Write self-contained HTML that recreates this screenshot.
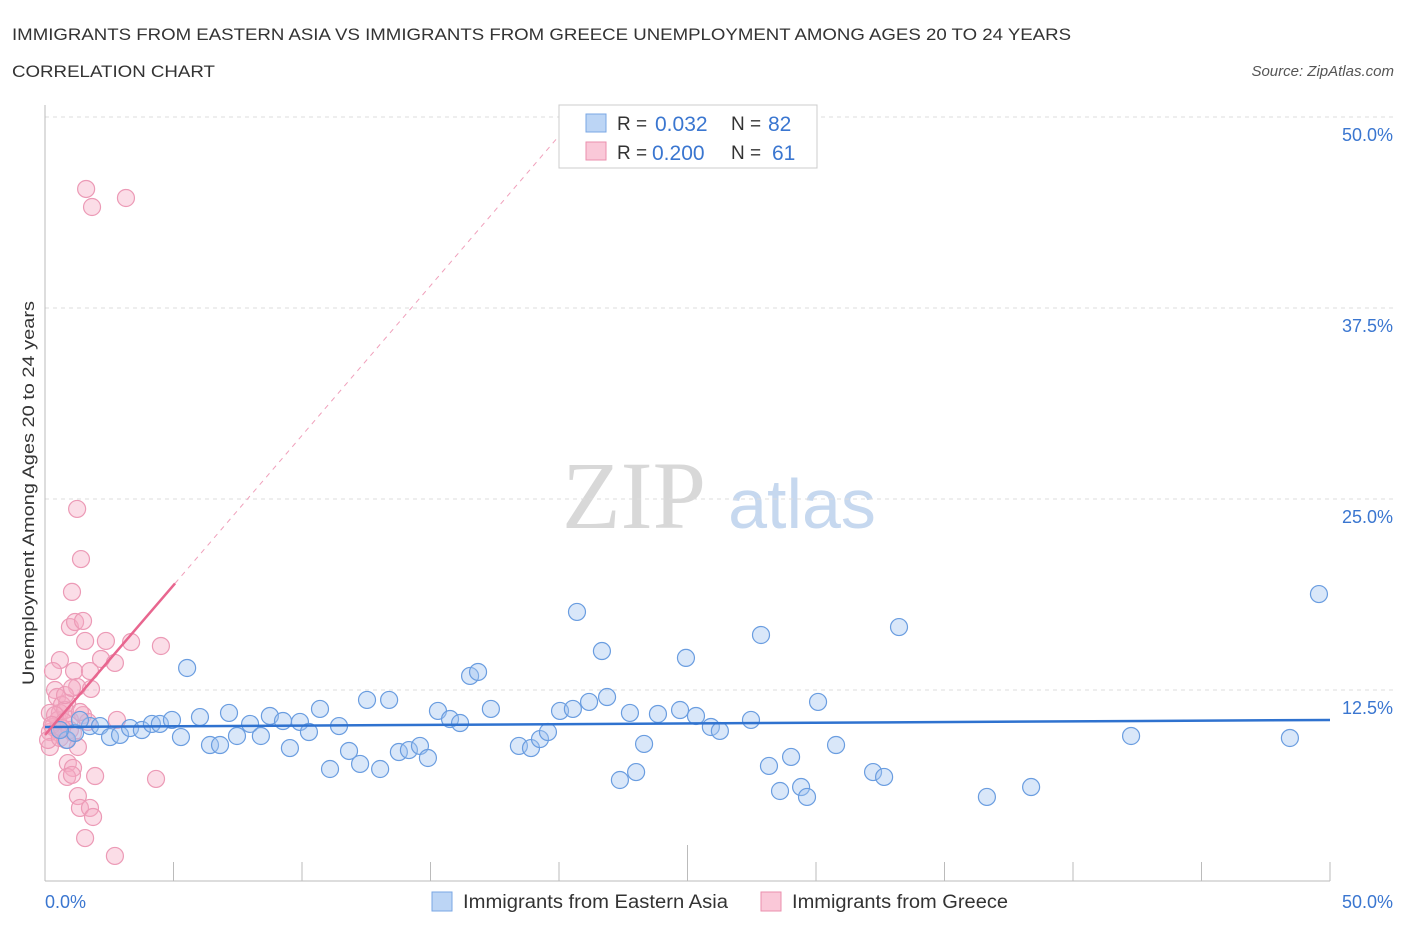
<!DOCTYPE html>
<html><head><meta charset="utf-8"><style>
body{margin:0;background:#fff;font-family:"Liberation Sans",sans-serif;}
svg{display:block}
</style></head><body>
<svg id="chart" width="1406" height="930">
<text x="12" y="40" font-size="17" fill="#333" textLength="1059" lengthAdjust="spacingAndGlyphs">IMMIGRANTS FROM EASTERN ASIA VS IMMIGRANTS FROM GREECE UNEMPLOYMENT AMONG AGES 20 TO 24 YEARS</text>
<text x="12" y="77" font-size="17" fill="#333" textLength="203" lengthAdjust="spacingAndGlyphs">CORRELATION CHART</text>
<text x="1394" y="76" font-size="15" fill="#555" font-style="italic" text-anchor="end">Source: ZipAtlas.com</text>
<text x="634" y="528" font-size="96" fill="#d8d8d8" font-family="Liberation Serif,serif" text-anchor="middle">ZIP</text>
<text x="802" y="528" font-size="70" fill="#c6d8ef" text-anchor="middle">atlas</text>
<g id="grid"></g>
<g id="axes"></g>
<g id="marks"></g>
<text transform="translate(34,493) rotate(-90)" font-size="17" fill="#333" text-anchor="middle" textLength="384" lengthAdjust="spacingAndGlyphs">Unemployment Among Ages 20 to 24 years</text>
<g>
<rect x="559" y="105" width="258" height="63" fill="#fff" stroke="#ccc"/>
<rect x="586" y="114" width="20" height="18" fill="#bcd5f5" stroke="#7aa7e4"/>
<rect x="586" y="142" width="20" height="18" fill="#fac8d8" stroke="#eb8fae"/>
<text x="617" y="130" font-size="19" fill="#333">R =</text>
<text x="655" y="131" font-size="21" fill="#3a76d0">0.032</text>
<text x="731" y="130" font-size="19" fill="#333">N =</text>
<text x="768" y="131" font-size="21" fill="#3a76d0">82</text>
<text x="617" y="159" font-size="19" fill="#333">R =</text>
<text x="652" y="160" font-size="21" fill="#3a76d0">0.200</text>
<text x="731" y="159" font-size="19" fill="#333">N =</text>
<text x="772" y="160" font-size="21" fill="#3a76d0">61</text>
</g>
<g>
<rect x="432" y="892" width="20" height="19" fill="#bcd5f5" stroke="#7aa7e4"/>
<text x="463" y="908" font-size="19" fill="#333" textLength="265" lengthAdjust="spacingAndGlyphs">Immigrants from Eastern Asia</text>
<rect x="761" y="892" width="20" height="19" fill="#fac8d8" stroke="#eb8fae"/>
<text x="792" y="908" font-size="19" fill="#333" textLength="216" lengthAdjust="spacingAndGlyphs">Immigrants from Greece</text>
</g>
</svg>
<script>
const yTicks=[12.5,25,37.5,50];
const yTickLabels=["12.5%","25.0%","37.5%","50.0%"];
const xTickValues=[0,5,10,15,20,25,30,35,40,45,50];
const blueX=[0.86,1.17,1.75,2.14,2.53,2.92,3.31,3.77,4.16,4.47,4.94,5.29,5.53,6.03,6.42,6.81,7.16,7.47,7.98,8.40,8.75,9.26,9.53,9.92,10.27,10.70,11.09,11.44,11.83,12.26,12.53,13.04,13.39,13.77,14.16,14.59,14.90,15.29,15.76,16.15,16.54,16.85,17.35,18.44,18.91,19.26,19.57,20.04,20.54,20.70,21.17,21.67,21.87,22.37,22.76,23.00,23.31,23.85,24.71,24.94,25.33,25.91,26.26,27.47,27.86,28.17,28.60,29.03,29.42,29.65,30.08,30.78,32.22,32.65,33.23,36.65,38.37,42.26,48.44,49.57,0.58,1.36];
const blueY=[9.23,9.69,10.14,10.14,9.42,9.56,10.01,9.88,10.28,10.28,10.54,9.42,13.94,10.73,8.90,8.90,11.00,9.49,10.28,9.49,10.80,10.47,8.70,10.41,9.75,11.26,7.33,10.14,8.51,7.66,11.85,7.33,11.85,8.44,8.57,8.84,8.05,11.13,10.60,10.34,13.42,13.68,11.26,8.84,8.70,9.29,9.75,11.13,11.26,17.61,11.72,15.05,12.04,6.61,11.00,7.13,8.97,10.93,11.19,14.60,10.80,10.08,9.82,10.54,16.10,7.53,5.89,8.12,6.15,5.50,11.72,8.90,7.13,6.81,16.62,5.50,6.15,9.49,9.36,18.78,9.88,10.54];
const pinkX=[1.05,0.97,1.17,1.48,1.56,2.37,3.35,4.51,0.58,2.18,2.72,0.31,1.13,1.75,0.39,1.25,1.79,0.47,0.86,0.19,0.58,1.48,2.80,1.67,0.19,0.31,0.51,1.09,1.28,0.19,0.89,1.09,0.86,1.05,1.95,4.32,1.28,1.36,1.75,1.87,1.56,2.72,1.60,1.83,3.15,1.25,1.40,0.97,0.66,0.47,0.78,0.12,0.78,1.05,0.58,0.39,0.74,0.97,1.36,0.82,0.27,0.66];
const pinkY=[18.92,16.62,16.95,17.02,15.71,15.71,15.64,15.38,14.46,14.53,14.27,13.74,13.74,13.74,12.50,12.70,12.57,12.04,11.65,11.00,11.00,10.86,10.54,10.41,9.75,10.08,10.54,9.69,8.77,8.77,7.72,7.40,6.81,6.94,6.87,6.68,5.56,4.78,4.78,4.19,2.81,1.64,45.29,44.11,44.70,24.35,21.07,10.54,11.52,9.88,11.19,9.23,12.17,12.63,9.36,10.86,10.41,9.88,11.06,9.23,10.21,10.01];
const blueTrend=[10.08,10.54];
const pinkTrend=[9.56,1.96];
const NS="http://www.w3.org/2000/svg";
function xs(v){return 45+v/50*1285;}
function ys(v){return 881-v/12.5*191;}
function mk(t,a,p){const e=document.createElementNS(NS,t);for(const k in a)e.setAttribute(k,a[k]);p.appendChild(e);return e;}
const grid=document.getElementById('grid'),axes=document.getElementById('axes'),marks=document.getElementById('marks');
yTicks.forEach((v,i)=>{
 const l=mk('line',{x1:45,x2:1395,y1:ys(v),y2:ys(v),stroke:'#ddd','stroke-dasharray':'4,4'},grid);
 
 
 const t=mk('text',{x:1393,y:ys(v)+24,'font-size':18,fill:'#3a76d0','text-anchor':'end'},axes);
 t.textContent=yTickLabels[i];
 
 
});
const ax=mk('line',{x1:45,x2:1330,y1:881,y2:881,stroke:'#bbb'},axes);


const ay=mk('line',{x1:45,x2:45,y1:105,y2:881,stroke:'#bbb'},axes);


xTickValues.forEach(v=>{
 const tk=mk('line',{x1:xs(v),x2:xs(v),y1:v===25?845:862,y2:881,stroke:'#bbb'},axes);
 
 
});
const xl0=mk('text',{x:45,y:908,'font-size':18,fill:'#3a76d0'},axes);xl0.textContent='0.0%';


const xl1=mk('text',{x:1393,y:908,'font-size':18,fill:'#3a76d0','text-anchor':'end'},axes);xl1.textContent='50.0%';


pinkX.forEach((x,i)=>{
 const c=mk('circle',{cx:xs(x),cy:ys(pinkY[i]),r:8.5,fill:'rgba(246,170,195,0.4)',stroke:'#ec9ab6','stroke-width':1.2},marks);
 
 
});
blueX.forEach((x,i)=>{
 const c=mk('circle',{cx:xs(x),cy:ys(blueY[i]),r:8.5,fill:'rgba(160,196,240,0.4)',stroke:'#6a9de0','stroke-width':1.2},marks);
 
 
});
const bt=mk('line',{x1:xs(0),y1:ys(blueTrend[0]),x2:xs(50),y2:ys(blueTrend[1]),stroke:'#2f72cf','stroke-width':2.5},marks);


const xEnd=(50-pinkTrend[0])/pinkTrend[1];
const pd=mk('line',{x1:xs(5.06),y1:ys(pinkTrend[0]+pinkTrend[1]*5.06),x2:xs(xEnd),y2:ys(50),stroke:'#f0a0bb','stroke-width':1,'stroke-dasharray':'5,5'},marks);


const pt=mk('line',{x1:xs(0),y1:ys(pinkTrend[0]),x2:xs(5.06),y2:ys(pinkTrend[0]+pinkTrend[1]*5.06),stroke:'#e8668f','stroke-width':2.5},marks);


</script>
</body></html>
